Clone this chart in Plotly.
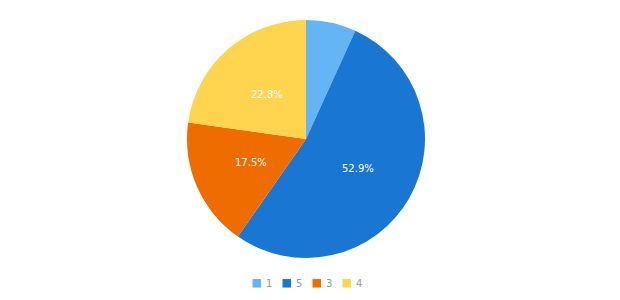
import math
import plotly.graph_objects as go

labels = ["1", "5", "3", "4"]
values = [6.8, 52.9, 17.5, 22.8]
colors = ["#64b5f6", "#1976d2", "#ef6c00", "#ffd54f"]
show_label = [False, True, True, True]

W, H = 620, 300
M = dict(l=0, r=8, t=20, b=42)
plot_w = W - M["l"] - M["r"]
plot_h = H - M["t"] - M["b"]
radius_px = min(plot_w, plot_h) / 2


def px_x(px):
    return (px - M["l"]) / plot_w


def px_y(py):
    return (H - M["b"] - py) / plot_h


fig = go.Figure(go.Pie(
    labels=labels,
    values=values,
    sort=False,
    direction="clockwise",
    rotation=0,
    marker=dict(colors=colors, line=dict(width=0)),
    textinfo="none",
    hoverinfo="label+percent",
    showlegend=False,
))

# inner labels at half radius on each slice's mid-angle (computed from values)
total = sum(values)
cum = 0.0
for lab, v, show in zip(labels, values, show_label):
    mid = (cum + v / 2) / total * 2 * math.pi
    cum += v
    if not show:
        continue
    dx = 0.5 * radius_px * math.sin(mid)
    dy = 0.5 * radius_px * math.cos(mid)
    fig.add_annotation(
        x=0.5 + dx / plot_w, y=0.5 + dy / plot_h,
        xref="paper", yref="paper",
        xanchor="center", yanchor="middle",
        text=f"{v / total * 100:.1f}%",
        showarrow=False,
        font=dict(color="#ffffff", size=10, family="DejaVu Sans"),
    )

# legend row (drawn manually to match compact spacing)
leg_x0, leg_step, leg_y, sq = 252.5, 30, 283.3, 8.5
for i, (lab, col) in enumerate(zip(labels, colors)):
    x = leg_x0 + i * leg_step
    fig.add_shape(
        type="rect", xref="paper", yref="paper",
        x0=px_x(x), x1=px_x(x + sq),
        y0=px_y(leg_y - sq / 2), y1=px_y(leg_y + sq / 2),
        fillcolor=col, line=dict(width=0),
    )
    fig.add_annotation(
        x=px_x(x + sq + 3), y=px_y(leg_y),
        xref="paper", yref="paper",
        xanchor="left", yanchor="middle",
        text=lab, showarrow=False,
        font=dict(size=10, color="#999999", family="DejaVu Sans"),
    )

fig.update_layout(
    width=W, height=H,
    margin=M,
    paper_bgcolor="#ffffff",
    plot_bgcolor="#ffffff",
    showlegend=False,
)

fig.write_html("out.html")
